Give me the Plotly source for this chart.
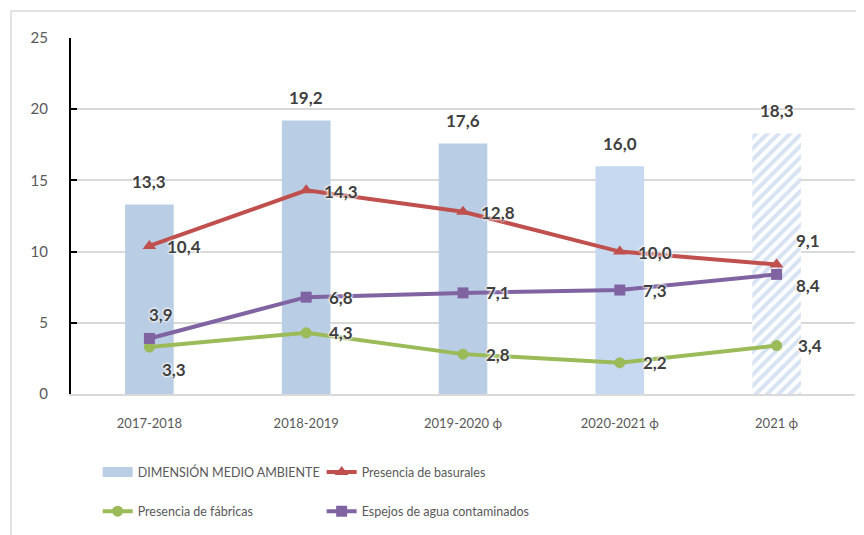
import plotly.graph_objects as go

categories = ["2017-2018", "2018-2019", "2019-2020 ϕ", "2020-2021 ϕ", "2021 ϕ"]
dimension = [13.3, 19.2, 17.6, 16.0, 18.3]
basurales = [10.4, 14.3, 12.8, 10.0, 9.1]
fabricas = [3.3, 4.3, 2.8, 2.2, 3.4]
espejos = [3.9, 6.8, 7.1, 7.3, 8.4]

names = ["DIMENSIÓN MEDIO AMBIENTE", "Presencia de basurales",
         "Presencia de fábricas", "Espejos de agua contaminados"]

BAR_COLORS = ["#B9CDE5", "#B9CDE5", "#B9CDE5", "#C6D9F1"]
HATCH = "#B0C6E6"
RED, GREEN, PURPLE = "#C0504D", "#9BBB59", "#8064A2"
LABEL_FONT = "Lato, 'Open Sans', sans-serif"
AXIS_FONT = "Lato, sans-serif"

fig = go.Figure()

# solid bars (final, estimated period drawn hatched)
fig.add_trace(go.Bar(
    x=categories[:4], y=dimension[:4], width=0.31, showlegend=False,
    marker=dict(color=BAR_COLORS, line=dict(width=0)),
    hoverinfo="x+y",
))
fig.add_trace(go.Bar(
    x=categories[4:], y=dimension[4:], width=0.31, showlegend=False,
    marker=dict(color="white", line=dict(width=0),
                pattern=dict(shape="/", fgcolor=HATCH, bgcolor="white",
                             size=8, solidity=0.5)),
    hoverinfo="x+y",
))
# legend proxy for bars (wide rectangle)
fig.add_trace(go.Scatter(x=[None], y=[None], mode="lines", name=names[0],
                         line=dict(color="#B9CDE5", width=10), legend="legend"))

fig.add_trace(go.Scatter(x=categories, y=basurales, name=names[1], mode="lines+markers",
                         line=dict(color=RED, width=4),
                         marker=dict(symbol="triangle-up", size=12, color=RED),
                         legend="legend"))
fig.add_trace(go.Scatter(x=categories, y=fabricas, name=names[2], mode="lines+markers",
                         line=dict(color=GREEN, width=4),
                         marker=dict(symbol="circle", size=11, color=GREEN),
                         legend="legend2"))
fig.add_trace(go.Scatter(x=categories, y=espejos, name=names[3], mode="lines+markers",
                         line=dict(color=PURPLE, width=4),
                         marker=dict(symbol="square", size=11, color=PURPLE),
                         legend="legend2"))

def fmt(v):
    return f"{v:.1f}".replace(".", ",")

# label offsets (pixels) per series
offsets = {
    "bar": [(0, 23)] * 5,
    "red": [(35, -1), (35, -1), (35, -1), (35, -1), (31, 24)],
    "green": [(25, -22), (35, 0), (35, 0), (35, 0), (33, 0)],
    "purple": [(12, 24), (35, 0), (35, 0), (35, 0), (31, -11)],
}
series = [("bar", dimension), ("red", basurales), ("green", fabricas), ("purple", espejos)]
for key, vals in series:
    for i, v in enumerate(vals):
        dx, dy = offsets[key][i]
        fig.add_annotation(
            x=categories[i], y=v, text=f"<b>{fmt(v)}</b>", showarrow=False,
            xshift=dx, yshift=dy,
            font=dict(family=LABEL_FONT, size=17, color="#404040",
                      shadow="0px 0px 3px white, 0px 0px 3px white, 0px 0px 2px white"),
        )

fig.add_shape(type="rect", xref="paper", yref="paper",
              x0=-0.0765, x1=1.03, y0=-0.45, y1=1.076,
              line=dict(color="#D9D9D9", width=1.5), layer="below")

legend_common = dict(orientation="h", xanchor="left", yanchor="top",
                     entrywidth=179, entrywidthmode="pixels",
                     font=dict(family=AXIS_FONT, size=12.5, color="#595959"),
                     bgcolor="rgba(0,0,0,0)", itemwidth=30)

fig.update_layout(
    width=856, height=527,
    margin=dict(l=63, r=9, t=30, b=134),
    paper_bgcolor="white", plot_bgcolor="white",
    font=dict(family=AXIS_FONT, size=13, color="#595959"),
    barmode="overlay",
    legend=dict(x=0.034, y=-0.178, **legend_common),
    legend2=dict(x=0.034, y=-0.288, **legend_common),
    xaxis=dict(showgrid=False, showline=True, linecolor="#D9D9D9", linewidth=1.5,
               ticks="", ticklabelstandoff=17, tickfont=dict(size=13, color="#595959"),
               fixedrange=True),
    yaxis=dict(range=[0, 25], dtick=5, showgrid=True, gridcolor="#D9D9D9", gridwidth=1.5,
               showline=True, linecolor="black", linewidth=2, ticks="inside",
               ticklen=6, tickwidth=2, tickcolor="black", zeroline=False,
               ticklabelstandoff=18, tickfont=dict(size=15, color="#595959"),
               fixedrange=True),
)

fig.write_html("out.html")
